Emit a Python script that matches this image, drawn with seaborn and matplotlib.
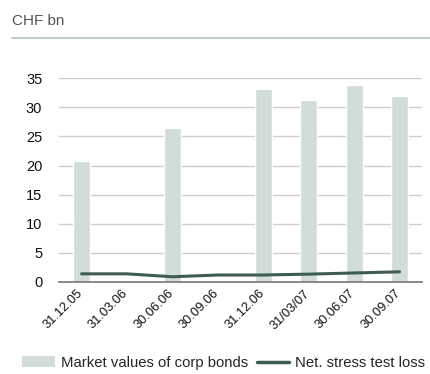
import pandas as pd
import matplotlib.pyplot as plt
import matplotlib.transforms as mtransforms
import seaborn as sns
from matplotlib.patches import Patch
from matplotlib.lines import Line2D

dates = ['31.12.05', '31.03.06', '30.06.06', '30.09.06', '31.12.06', '31/03/07', '30.06.07', '30.09.07']
market_values = [20.8, None, 26.5, None, 33.2, 31.3, 33.8, 32.0]
stress_loss = [1.4, 1.4, 0.9, 1.2, 1.2, 1.35, 1.55, 1.75]

bar_color = '#d1ddd6'
line_color = '#3f5c51'

sns.set_theme(style='white')
plt.rcParams['font.family'] = ['Liberation Sans', 'DejaVu Sans']

df = pd.DataFrame({'date': dates, 'market': market_values, 'loss': stress_loss})

fig = plt.figure(figsize=(4.3, 3.74), dpi=100)
ax = fig.add_axes([0.137, 0.246, 0.845, 0.545])

sns.barplot(data=df, x='date', y='market', color=bar_color, width=0.37,
            saturation=1, ax=ax, zorder=2)
sns.lineplot(data=df, x='date', y='loss', color=line_color, linewidth=2.2,
             ax=ax, zorder=3, sort=False)

ax.set_ylim(0, 35)
ax.set_xlim(-0.5, 7.5)
ax.set_yticks(range(0, 36, 5))
ax.yaxis.grid(True, color='#cccccc', linewidth=1, zorder=0)
ax.set_axisbelow(True)
ax.set_xlabel('')
ax.set_ylabel('')
for s in ['top', 'right', 'left']:
    ax.spines[s].set_visible(False)
ax.spines['bottom'].set_color('#777777')
ax.spines['bottom'].set_linewidth(1.2)
ax.tick_params(axis='y', labelsize=10.5, colors='#111111', length=0, pad=12)
ax.tick_params(axis='x', labelsize=9.3, colors='#111111', length=0, pad=4)

# rotated date labels, nudged slightly left like the reference
offset = mtransforms.ScaledTranslation(-5 / 100, 0, fig.dpi_scale_trans)
for lab in ax.get_xticklabels():
    lab.set_rotation(45)
    lab.set_ha('right')
    lab.set_rotation_mode('anchor')
    lab.set_transform(lab.get_transform() + offset)

# header
fig.text(0.028, 0.945, 'CHF bn', fontsize=11, color='#555555', va='center')
fig.add_artist(Line2D([0.028, 1.0], [0.898, 0.898], color='#bccfc6', linewidth=1.5))

handles = [Patch(facecolor=bar_color, edgecolor='none', label='Market values of corp bonds'),
           Line2D([0], [0], color=line_color, linewidth=2.5, label='Net. stress test loss')]
fig.legend(handles=handles, loc='center', bbox_to_anchor=(0.52, 0.03), ncol=2,
           frameon=False, fontsize=10.7, handlelength=2.2, handletextpad=0.4,
           columnspacing=0.6)

fig.savefig('out.png', dpi=100)
